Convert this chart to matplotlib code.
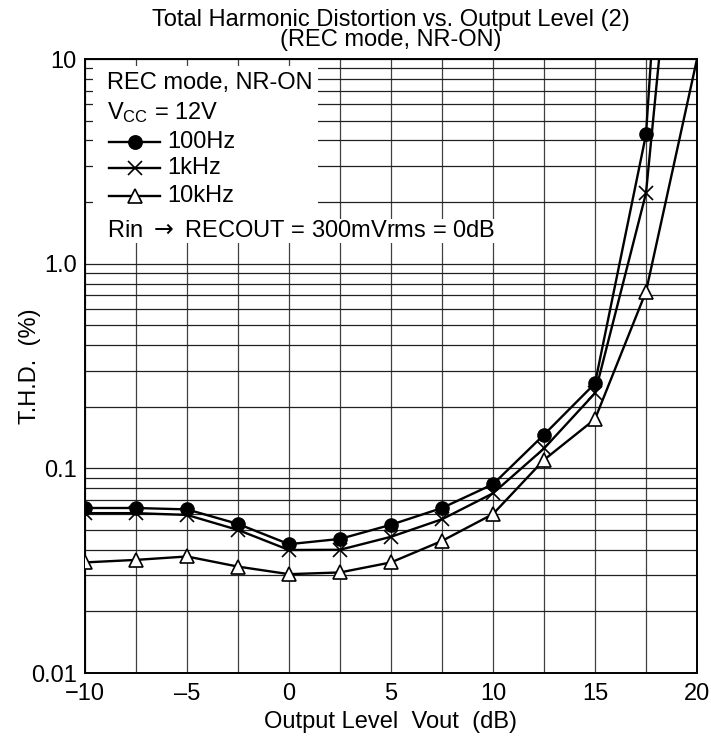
import matplotlib
matplotlib.use("Agg")
import matplotlib.pyplot as plt
from matplotlib.patches import Rectangle
from matplotlib.lines import Line2D
from matplotlib.ticker import FixedLocator, LogLocator, NullFormatter

plt.rcParams['font.family'] = ['Liberation Sans', 'DejaVu Sans']
plt.rcParams['mathtext.fontset'] = 'custom'
plt.rcParams['mathtext.rm'] = 'Liberation Sans'
plt.rcParams['mathtext.it'] = 'Liberation Sans'

# ---- data ----
output_db = [-10, -7.5, -5, -2.5, 0, 2.5, 5, 7.5, 10, 12.5, 15, 17.5, 20]
thd_100hz = [0.064, 0.064, 0.063, 0.0535, 0.0426, 0.0452, 0.053, 0.064, 0.0836, 0.146, 0.26, 4.28, 25000]
thd_1khz = [0.0604, 0.0604, 0.0592, 0.050, 0.0399, 0.040, 0.0463, 0.0564, 0.0755, 0.125, 0.233, 2.21, 800]
thd_10khz = [0.0347, 0.0357, 0.0371, 0.0331, 0.0304, 0.031, 0.0347, 0.0442, 0.0598, 0.11, 0.174, 0.73, 10]

x_ticks = [-10, -5, 0, 5, 10, 15, 20]
x_ticklabels = ['\u221210', '\u20135', '0', '5', '10', '15', '20']
y_ticks = [0.01, 0.1, 1.0, 10]
y_ticklabels = ['0.01', '0.1', '1.0', '10']

W, H = 711, 742
fig = plt.figure(figsize=(W / 100, H / 100), dpi=100)
L, R, T, B = 85, 697, 59, 673
ax = fig.add_axes([L / W, (H - B) / H, (R - L) / W, (B - T) / H])

FS = 17
ax.set_yscale('log')
ax.set_xlim(-10, 20)
ax.set_ylim(0.01, 10)

ax.set_xticks(x_ticks)
ax.set_xticklabels(x_ticklabels, fontsize=FS)
ax.xaxis.set_minor_locator(FixedLocator([-7.5, -2.5, 2.5, 7.5, 12.5, 17.5]))
ax.set_yticks(y_ticks)
ax.set_yticklabels(y_ticklabels, fontsize=FS)
ax.yaxis.set_minor_locator(LogLocator(base=10, subs=range(2, 10)))
ax.yaxis.set_minor_formatter(NullFormatter())
ax.tick_params(which='both', length=0, pad=6)
ax.tick_params(axis='x', pad=7)

ax.grid(True, axis='x', which='both', color='#404040', lw=0.9)
ax.grid(True, axis='y', which='both', color='#202020', lw=0.9)
ax.set_axisbelow(True)
for s in ax.spines.values():
    s.set_linewidth(1.4)
    s.set_color('black')

lw = 1.7
ax.plot(output_db, thd_100hz, color='black', lw=lw, marker='o', ms=9.5,
        mfc='black', mec='black', markevery=slice(0, 12), zorder=5)
ax.plot(output_db, thd_1khz, color='black', lw=lw, marker='x', ms=10,
        mew=1.2, mec='black', markevery=slice(0, 12), zorder=4)
ax.plot(output_db, thd_10khz, color='black', lw=lw, marker='^', ms=10,
        mfc='white', mec='black', mew=1.2, markevery=slice(0, 12), zorder=6)

def ax_xy(px, py):
    return ((px - L) / (R - L), (B - py) / (B - T))

# white background for legend block
x0, y0 = ax_xy(93, 220)
x1, y1 = ax_xy(318, 66)
ax.add_patch(Rectangle((x0, y0), x1 - x0, y1 - y0, transform=ax.transAxes,
                       facecolor='white', edgecolor='none', zorder=3))
x0, y0 = ax_xy(93, 243)
x1, y1 = ax_xy(505, 219)
ax.add_patch(Rectangle((x0, y0), x1 - x0, y1 - y0, transform=ax.transAxes,
                       facecolor='white', edgecolor='none', zorder=3))

tx, ty = ax_xy(107, 83)
ax.text(tx, ty, 'REC mode, NR-ON', transform=ax.transAxes, fontsize=FS,
        ha='left', va='center', zorder=7)
tx, ty = ax_xy(107, 113)
ax.text(tx, ty, 'V$_{\\mathrm{CC}}$ = 12V', transform=ax.transAxes, fontsize=FS,
        ha='left', va='center', zorder=7)

rows = [(142, 'o', 'black', '100Hz'), (168, 'x', None, '1kHz'), (196, '^', 'white', '10kHz')]
for py, mk, fc, label in rows:
    a, yy = ax_xy(109, py)
    b, _ = ax_xy(160, py)
    m, _ = ax_xy(135, py)
    ax.add_line(Line2D([a, b], [yy, yy], transform=ax.transAxes, color='black',
                       lw=lw, zorder=7))
    kw = dict(mew=1.2, mec='black')
    if fc is not None:
        kw['mfc'] = fc
    ms = 9.5 if mk == 'o' else 10
    ax.add_line(Line2D([m], [yy], transform=ax.transAxes, marker=mk, ms=ms,
                       lw=0, zorder=8, **kw))
    t, _ = ax_xy(167, py)
    ax.text(t, yy, label, transform=ax.transAxes, fontsize=FS, ha='left',
            va='center', zorder=7)

tx, ty = ax_xy(107, 231)
ax.text(tx, ty, 'Rin $\\rightarrow$ RECOUT = 300mVrms = 0dB', transform=ax.transAxes,
        fontsize=FS, ha='left', va='center', zorder=7, math_fontfamily='dejavusans')

# title (two lines)
fig.text(391 / W, 1 - 20 / H, 'Total Harmonic Distortion vs. Output Level (2)',
         fontsize=FS, ha='center', va='center')
fig.text(391 / W, 1 - 40 / H, '(REC mode, NR-ON)', fontsize=FS,
         ha='center', va='center')

fig.text(391 / W, 1 - 722 / H, 'Output Level  Vout  (dB)', fontsize=FS,
         ha='center', va='center')
fig.text(30 / W, 1 - 366 / H, 'T.H.D.  (%)', fontsize=FS, rotation=90,
         ha='center', va='center')

fig.savefig('out.png', dpi=100)
